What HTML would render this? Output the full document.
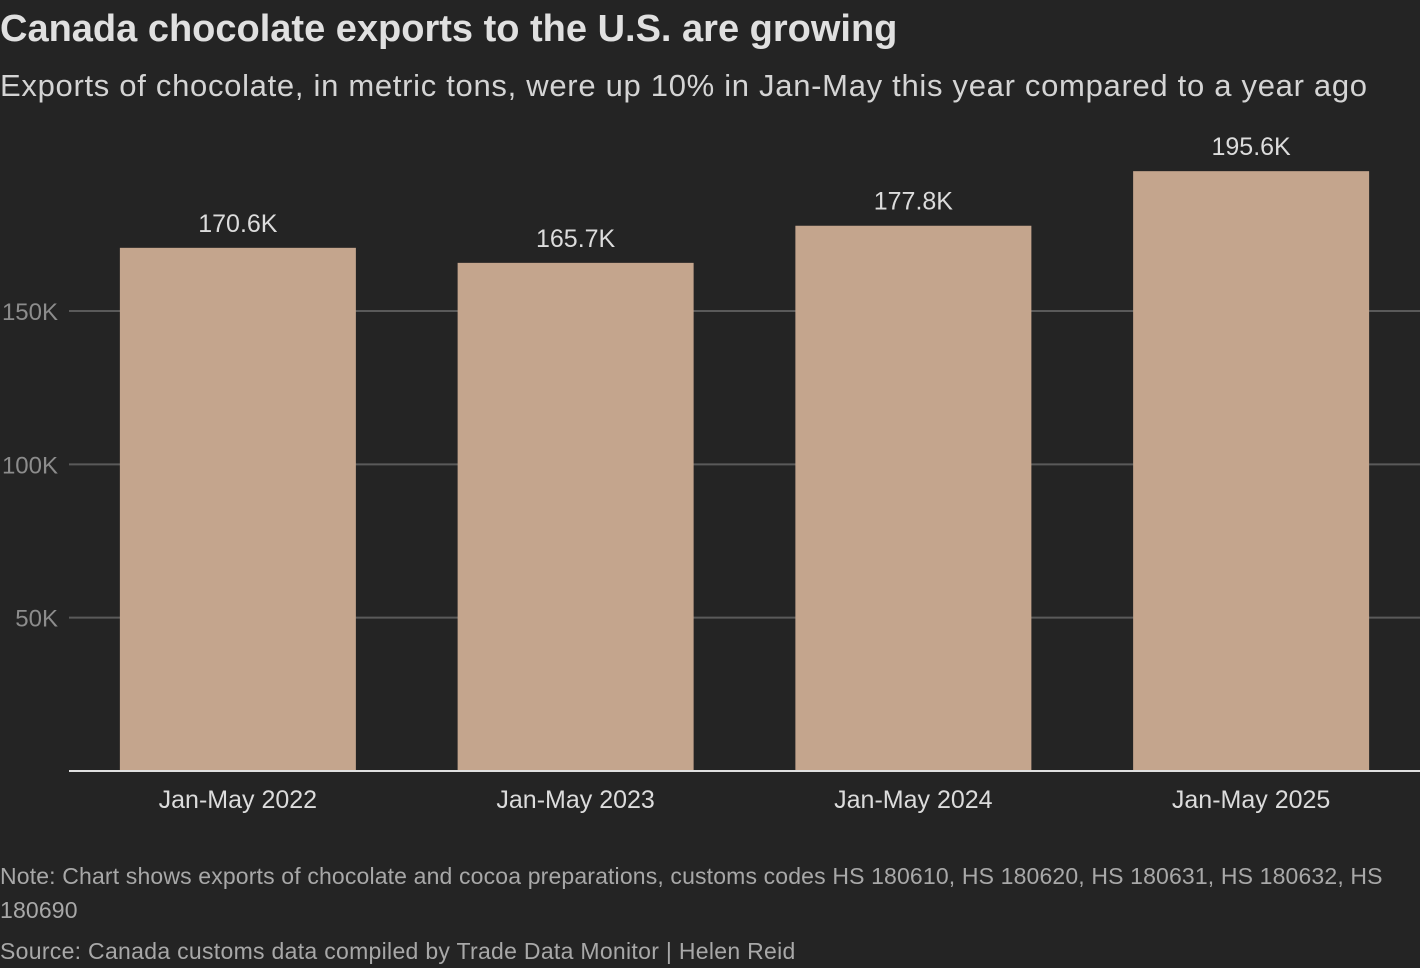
<!DOCTYPE html>
<html><head><meta charset="utf-8"><style>
html,body{margin:0;padding:0;background:#242424;width:1420px;height:968px;overflow:hidden;font-family:"Liberation Sans",sans-serif}
.t{position:absolute;left:0;white-space:nowrap}
</style></head><body>
<div class="t" style="top:8px;font-size:38px;font-weight:bold;color:#e0e0e0;letter-spacing:0px">Canada chocolate exports to the U.S. are growing</div>
<div class="t" style="top:68px;font-size:31px;color:#d4d4d4;letter-spacing:0.7px">Exports of chocolate, in metric tons, were up 10% in Jan-May this year compared to a year ago</div>
<svg id="c" width="1420" height="968" style="position:absolute;left:0;top:0"></svg>
<div class="t" style="top:859px;font-size:23px;color:#a8a8a8;line-height:34px;white-space:normal;width:1400px;letter-spacing:0.15px">Note: Chart shows exports of chocolate and cocoa preparations, customs codes HS 180610, HS 180620, HS 180631, HS 180632, HS 180690</div>
<div class="t" style="top:938px;font-size:23px;color:#a8a8a8;letter-spacing:0.3px">Source: Canada customs data compiled by Trade Data Monitor | Helen Reid</div>
<script>
const categories=["Jan-May 2022","Jan-May 2023","Jan-May 2024","Jan-May 2025"];
const values=[170.6,165.7,177.8,195.6];
const valueLabels=["170.6K","165.7K","177.8K","195.6K"];
const ticks=[50,100,150];
const tickLabels=["50K","100K","150K"];
const NS="http://www.w3.org/2000/svg",svg=document.getElementById('c');
const x0=69,x1=1420,y0=771,yk=460/150;
const y=v=>y0-v*yk;
const band=(x1-x0)/categories.length,bw=236;
const bx=i=>x0+band*i+(band-bw)/2;
function mk(t,a,txt){const e=document.createElementNS(NS,t);for(const k in a)e.setAttribute(k,a[k]);if(txt!==undefined)e.textContent=txt;svg.appendChild(e);return e;}
ticks.forEach((t,i)=>{
 let l=mk('line',{x1:x0,x2:x1,y1:y(t),y2:y(t),stroke:'#5a5a5a','stroke-width':2});
 
 
 let tx=mk('text',{x:58,y:y(t)+9,'text-anchor':'end','font-size':24,fill:'#8c8c8c','font-family':'Liberation Sans, sans-serif'},tickLabels[i]);
 
 
});
categories.forEach((c,i)=>{
 let r=mk('rect',{x:bx(i),y:y(values[i]),width:bw,height:y0-y(values[i]),fill:'#c4a58d'});
 
 
 let v=mk('text',{x:bx(i)+bw/2,y:y(values[i])-16,'text-anchor':'middle','font-size':25,fill:'#dcdcdc','font-family':'Liberation Sans, sans-serif'},valueLabels[i]);
 
 
 let cl=mk('text',{x:bx(i)+bw/2,y:808,'text-anchor':'middle','font-size':25,fill:'#dcdcdc','font-family':'Liberation Sans, sans-serif'},c);
 
 
});
let ax=mk('line',{x1:x0,x2:x1,y1:y0,y2:y0,stroke:'#e0e0e0','stroke-width':2});


</script>
</body></html>
